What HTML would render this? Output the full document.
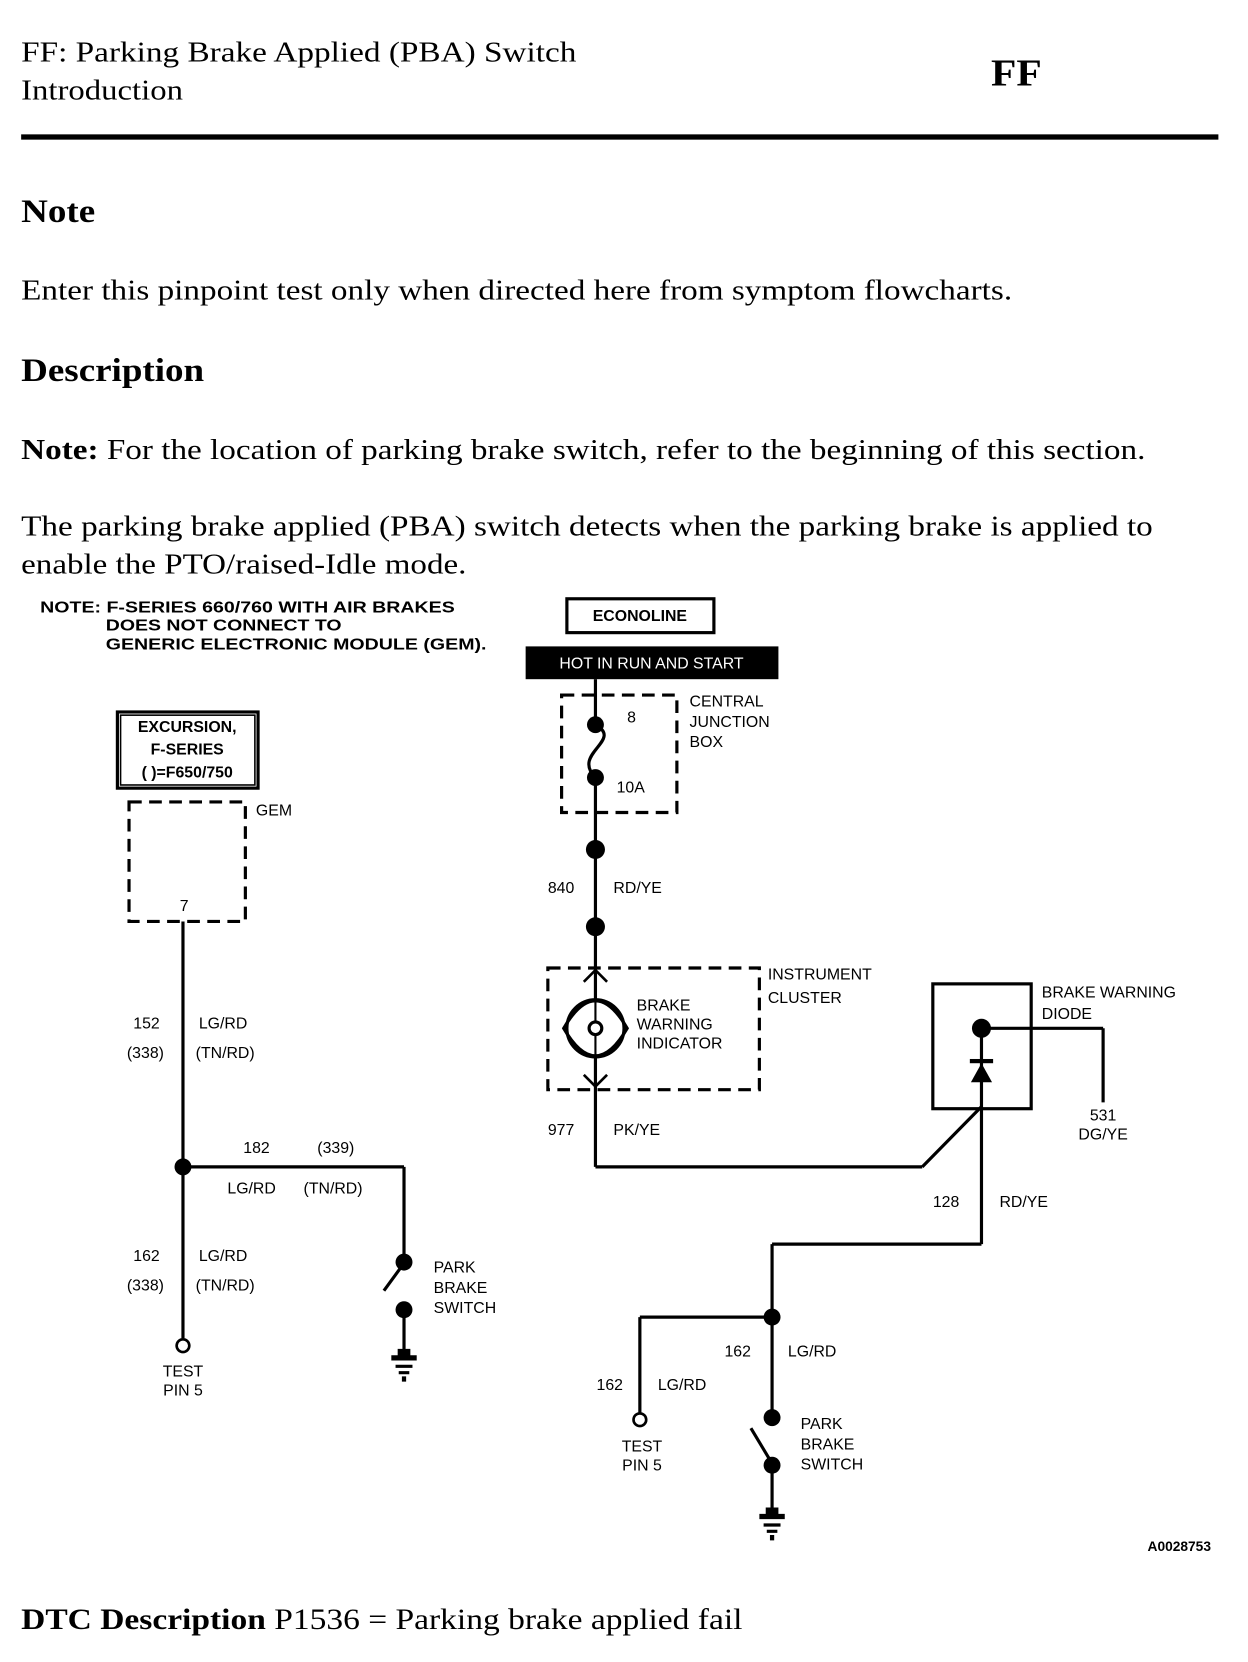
<!DOCTYPE html>
<html><head><meta charset="utf-8"><style>
html,body{margin:0;padding:0;background:#fff;}
svg{display:block;}
.s{font-family:"Liberation Serif",serif;fill:#000;}
.d{font-family:"Liberation Sans",sans-serif;font-size:15px;fill:#000;}
.b{font-weight:bold;}
</style></head><body>
<svg width="1248" height="1662" viewBox="0 0 1180 1571" preserveAspectRatio="none" xmlns="http://www.w3.org/2000/svg">
<text class="s" x="20" y="58" font-size="27" textLength="525" lengthAdjust="spacingAndGlyphs">FF: Parking Brake Applied (PBA) Switch</text>
<text class="s" x="20" y="94" font-size="27" textLength="153" lengthAdjust="spacingAndGlyphs">Introduction</text>
<text class="s b" x="937" y="81" font-size="36" textLength="48" lengthAdjust="spacingAndGlyphs">FF</text>
<rect x="20" y="127" width="1132" height="5" fill="#000"/>
<text class="s b" x="20" y="210" font-size="31" textLength="70" lengthAdjust="spacingAndGlyphs">Note</text>
<text class="s" x="20" y="283" font-size="27" textLength="937" lengthAdjust="spacingAndGlyphs">Enter this pinpoint test only when directed here from symptom flowcharts.</text>
<text class="s b" x="20" y="360" font-size="31" textLength="173" lengthAdjust="spacingAndGlyphs">Description</text>
<text class="s" x="20" y="434" font-size="27" textLength="1063" lengthAdjust="spacingAndGlyphs"><tspan font-weight="bold">Note:</tspan> For the location of parking brake switch, refer to the beginning of this section.</text>
<text class="s" x="20" y="506" font-size="27" textLength="1070" lengthAdjust="spacingAndGlyphs">The parking brake applied (PBA) switch detects when the parking brake is applied to</text>
<text class="s" x="20" y="542" font-size="27" textLength="421" lengthAdjust="spacingAndGlyphs">enable the PTO/raised-Idle mode.</text>
<text class="s" x="20" y="1540" font-size="28" textLength="682" lengthAdjust="spacingAndGlyphs"><tspan font-weight="bold">DTC Description</tspan>  P1536 = Parking brake applied fail</text>

<g stroke="#000" fill="none" stroke-width="3">
<rect x="111" y="673" width="133" height="72" stroke-width="3"/>
<rect x="114" y="676" width="127" height="66" stroke-width="1.5"/>
<rect x="122" y="758" width="110" height="113" stroke-dasharray="12,7"/>
<line x1="173" y1="871" x2="173" y2="1265"/>
<line x1="173" y1="1103" x2="382" y2="1103"/>
<line x1="382" y1="1103" x2="382" y2="1192"/>
<line x1="382" y1="1194" x2="363" y2="1220"/>
<line x1="382" y1="1238" x2="382" y2="1278"/>
<circle cx="173" cy="1272" r="6" stroke-width="2.5"/>
<rect x="536" y="566" width="139" height="32" stroke-width="3"/>
<rect x="531" y="657" width="109" height="111" stroke-dasharray="12,7"/>
<line x1="563" y1="642" x2="563" y2="685"/>
<path d="M563 685 C590 700 540 712 563 735"/>
<line x1="563" y1="735" x2="563" y2="1103"/>
<rect x="518" y="915" width="200" height="115" stroke-dasharray="12,7"/>
<path d="M533 972 Q563 920 593 972 Q563 1024 533 972 Z" fill="#fff"/>
<circle cx="563" cy="972" r="27" fill="none"/>
<path d="M552 928 L563 917 L574 928 M552 1016 L563 1027 L574 1016" stroke-width="2.5"/>
<line x1="563" y1="932" x2="563" y2="1012" stroke-width="2"/>
<circle cx="563" cy="972" r="6" stroke-width="3" fill="#fff"/>
<line x1="563" y1="1103" x2="872" y2="1103"/>
<line x1="872" y1="1103" x2="928" y2="1046"/>
<rect x="882" y="930" width="93" height="118"/>
<line x1="928" y1="972" x2="928" y2="1176"/>
<line x1="928" y1="972" x2="1043" y2="972"/>
<line x1="1043" y1="972" x2="1043" y2="1042"/>
<line x1="928" y1="1176" x2="730" y2="1176"/>
<line x1="730" y1="1176" x2="730" y2="1340"/>
<line x1="730" y1="1245" x2="605" y2="1245"/>
<line x1="605" y1="1245" x2="605" y2="1336"/>
<circle cx="605" cy="1342" r="6" stroke-width="2.5"/>
<line x1="728" y1="1380" x2="710" y2="1350"/>
<line x1="730" y1="1385" x2="730" y2="1430"/>
</g>
<g fill="#000">
<circle cx="173" cy="1103" r="8"/>
<circle cx="382" cy="1193" r="8"/><circle cx="382" cy="1238" r="8"/>
<path d="M376 1275 h12 v6 h6 v5 h-24 v-5 h6z M374 1290 h16 v3 h-16z M377 1296 h10 v3 h-10z M380 1301 h4 v5 h-4z"/>
<rect x="497" y="611" width="239" height="31"/>
<circle cx="563" cy="685" r="8"/><circle cx="563" cy="735" r="8"/>
<circle cx="563" cy="803" r="9"/><circle cx="563" cy="876" r="9"/>
<circle cx="928" cy="972" r="9"/>
<path d="M918 1023 L938 1023 L928 1005 Z"/><rect x="917" y="1001" width="22" height="4"/>
<circle cx="730" cy="1245" r="8"/>
<circle cx="730" cy="1340" r="8"/><circle cx="730" cy="1385" r="8"/>
<path d="M724 1425 h12 v6 h6 v5 h-24 v-5 h6z M722 1440 h16 v3 h-16z M725 1446 h10 v3 h-10z M728 1451 h4 v5 h-4z"/>
</g>
<g class="d b" font-size="14">
<text x="38" y="579" textLength="392" lengthAdjust="spacingAndGlyphs">NOTE: F-SERIES 660/760 WITH AIR BRAKES</text>
<text x="100" y="596" textLength="223" lengthAdjust="spacingAndGlyphs">DOES NOT CONNECT TO</text>
<text x="100" y="614" textLength="360" lengthAdjust="spacingAndGlyphs">GENERIC ELECTRONIC MODULE (GEM).</text>
<text x="177" y="692" text-anchor="middle">EXCURSION,</text>
<text x="177" y="713" text-anchor="middle">F-SERIES</text>
<text x="177" y="735" text-anchor="middle">(  )=F650/750</text>
<text x="605" y="587" text-anchor="middle">ECONOLINE</text>
<text x="1145" y="1466" text-anchor="end" font-size="13">A0028753</text>
</g>
<text class="d" x="616" y="632" text-anchor="middle" style="fill:#fff" font-size="14">HOT IN RUN AND START</text>
<g class="d">
<text x="242" y="771">GEM</text>
<text x="170" y="861">7</text>
<text x="126" y="972">152</text><text x="188" y="972">LG/RD</text>
<text x="120" y="1000">(338)</text><text x="185" y="1000">(TN/RD)</text>
<text x="230" y="1090">182</text><text x="300" y="1090">(339)</text>
<text x="215" y="1128">LG/RD</text><text x="287" y="1128">(TN/RD)</text>
<text x="126" y="1192">162</text><text x="188" y="1192">LG/RD</text>
<text x="120" y="1220">(338)</text><text x="185" y="1220">(TN/RD)</text>
<text x="173" y="1301" text-anchor="middle">TEST</text><text x="173" y="1319" text-anchor="middle">PIN 5</text>
<text x="410" y="1203">PARK</text><text x="410" y="1222">BRAKE</text><text x="410" y="1241">SWITCH</text>
<text x="593" y="683">8</text><text x="583" y="749">10A</text>
<text x="652" y="668">CENTRAL</text><text x="652" y="687">JUNCTION</text><text x="652" y="706">BOX</text>
<text x="518" y="844">840</text><text x="580" y="844">RD/YE</text>
<text x="602" y="955">BRAKE</text><text x="602" y="973">WARNING</text><text x="602" y="991">INDICATOR</text>
<text x="726" y="926">INSTRUMENT</text><text x="726" y="948">CLUSTER</text>
<text x="518" y="1073">977</text><text x="580" y="1073">PK/YE</text>
<text x="985" y="943">BRAKE WARNING</text><text x="985" y="963">DIODE</text>
<text x="1043" y="1059" text-anchor="middle">531</text><text x="1043" y="1077" text-anchor="middle">DG/YE</text>
<text x="882" y="1141">128</text><text x="945" y="1141">RD/YE</text>
<text x="685" y="1282">162</text><text x="745" y="1282">LG/RD</text>
<text x="564" y="1314">162</text><text x="622" y="1314">LG/RD</text>
<text x="607" y="1372" text-anchor="middle">TEST</text><text x="607" y="1390" text-anchor="middle">PIN 5</text>
<text x="757" y="1351">PARK</text><text x="757" y="1370">BRAKE</text><text x="757" y="1389">SWITCH</text>
</g>
</svg>
</body></html>
